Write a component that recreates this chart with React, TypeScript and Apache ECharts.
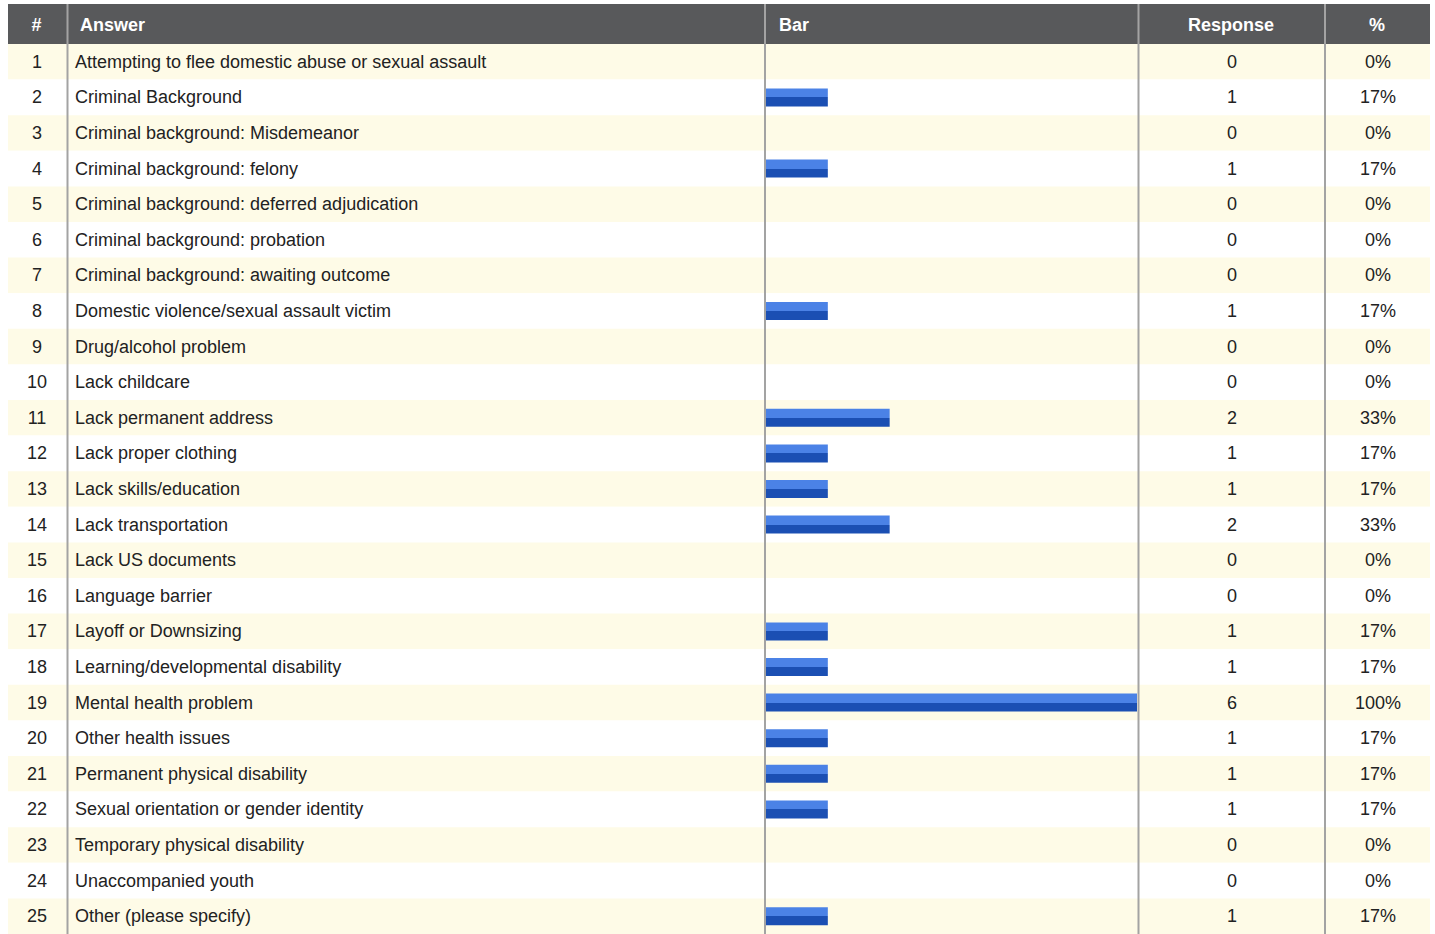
import React, { useEffect, useRef } from "react";
import * as echarts from "echarts";

const answers = [
  "Attempting to flee domestic abuse or sexual assault",
  "Criminal Background",
  "Criminal background: Misdemeanor",
  "Criminal background: felony",
  "Criminal background: deferred adjudication",
  "Criminal background: probation",
  "Criminal background: awaiting outcome",
  "Domestic violence/sexual assault victim",
  "Drug/alcohol problem",
  "Lack childcare",
  "Lack permanent address",
  "Lack proper clothing",
  "Lack skills/education",
  "Lack transportation",
  "Lack US documents",
  "Language barrier",
  "Layoff or Downsizing",
  "Learning/developmental disability",
  "Mental health problem",
  "Other health issues",
  "Permanent physical disability",
  "Sexual orientation or gender identity",
  "Temporary physical disability",
  "Unaccompanied youth",
  "Other (please specify)",
];

const responses = [0, 1, 0, 1, 0, 0, 0, 1, 0, 0, 2, 1, 1, 2, 0, 0, 1, 1, 6, 1, 1, 1, 0, 0, 1];

const percents = [
  "0%", "17%", "0%", "17%", "0%", "0%", "0%", "17%", "0%", "0%", "33%", "17%", "17%",
  "33%", "0%", "0%", "17%", "17%", "100%", "17%", "17%", "17%", "0%", "0%", "17%",
];

const headers = ["#", "Answer", "Bar", "Response", "%"];

const FONT = "'Liberation Sans', Arial, Helvetica, sans-serif";
const TEXT = "#222222";
const FS = 18;

export default function App() {
  const ref = useRef<HTMLDivElement>(null);

  useEffect(() => {
    if (!ref.current) return;
    const chart = echarts.init(ref.current, undefined, { renderer: "svg" });
    const W = 1435;
    const H = 934;
    const top = 44;
    const left = 8;
    const right = W - 1430;
    const barLeft = 766;
    const barWidth = 371;

    const dividers = [67.5, 765, 1138.5, 1325];

    const option: any = {
      animation: false,
      backgroundColor: "#ffffff",
      textStyle: { fontFamily: FONT },
      grid: [
        { left, right, top, bottom: 0 },
        { left: barLeft, width: barWidth, top, bottom: 0 },
      ],
      xAxis: [
        { gridIndex: 0, type: "value", min: 0, max: 1, show: false },
        { gridIndex: 1, type: "value", min: 0, max: 6, show: false },
      ],
      yAxis: [
        {
          gridIndex: 0,
          type: "category",
          inverse: true,
          position: "left",
          data: answers,
          axisLine: { show: false },
          axisTick: { show: false },
          splitLine: { show: false },
          splitArea: { show: true, areaStyle: { color: ["#fefbe7", "#ffffff"] } },
          axisLabel: {
            inside: true,
            margin: 0,
            interval: 0,
            formatter: (value: string, index: number) => `{n|${index + 1}}{a|${value}}`,
            rich: {
              n: { width: 58, align: "center", fontSize: FS, color: TEXT, fontFamily: FONT },
              a: { padding: [0, 0, 0, 9], fontSize: FS, color: TEXT, fontFamily: FONT },
            },
          },
        },
        {
          gridIndex: 0,
          type: "category",
          inverse: true,
          position: "right",
          data: percents,
          axisLine: { show: false },
          axisTick: { show: false },
          splitLine: { show: false },
          axisLabel: {
            inside: true,
            margin: 0,
            interval: 0,
            formatter: (value: string, index: number) => `{r|${responses[index]}}{p|${value}}`,
            rich: {
              r: { width: 188, align: "center", fontSize: FS, color: TEXT, fontFamily: FONT },
              p: { width: 104, align: "center", fontSize: FS, color: TEXT, fontFamily: FONT },
            },
          },
        },
        {
          gridIndex: 1,
          type: "category",
          inverse: true,
          data: answers,
          show: false,
        },
      ],
      series: [
        {
          type: "bar",
          xAxisIndex: 1,
          yAxisIndex: 2,
          data: responses,
          barWidth: 18,
          itemStyle: {
            color: new echarts.graphic.LinearGradient(0, 0, 0, 1, [
              { offset: 0, color: "#4b82e6" },
              { offset: 0.5, color: "#4b82e6" },
              { offset: 0.5, color: "#1b4fb3" },
              { offset: 1, color: "#1b4fb3" },
            ]),
          },
        },
      ],
      graphic: [
        {
          type: "rect",
          z: 50,
          shape: { x: left, y: 4, width: W - left - right, height: 40 },
          style: { fill: "#58595b" },
        },
        ...dividers.map((x) => ({
          type: "line",
          z: 60,
          shape: { x1: x, y1: 4, x2: x, y2: H },
          style: { stroke: "#a3a3a3", lineWidth: 2 },
        })),
        ...[
          { t: headers[0], x: 36.5, align: "center" },
          { t: headers[1], x: 80, align: "left" },
          { t: headers[2], x: 779, align: "left" },
          { t: headers[3], x: 1231, align: "center" },
          { t: headers[4], x: 1377, align: "center" },
        ].map((h) => ({
          type: "text",
          z: 70,
          x: h.x,
          y: 25,
          style: {
            text: h.t,
            fill: "#ffffff",
            font: `bold ${FS}px ${FONT}`,
            align: h.align,
            verticalAlign: "middle",
          },
        })),
      ],
    };

    chart.setOption(option);
    return () => chart.dispose();
  }, []);

  return (
    <div
      ref={ref}
      style={{ position: "absolute", left: 0, top: 0, width: 1435, height: 934 }}
    />
  );
}
